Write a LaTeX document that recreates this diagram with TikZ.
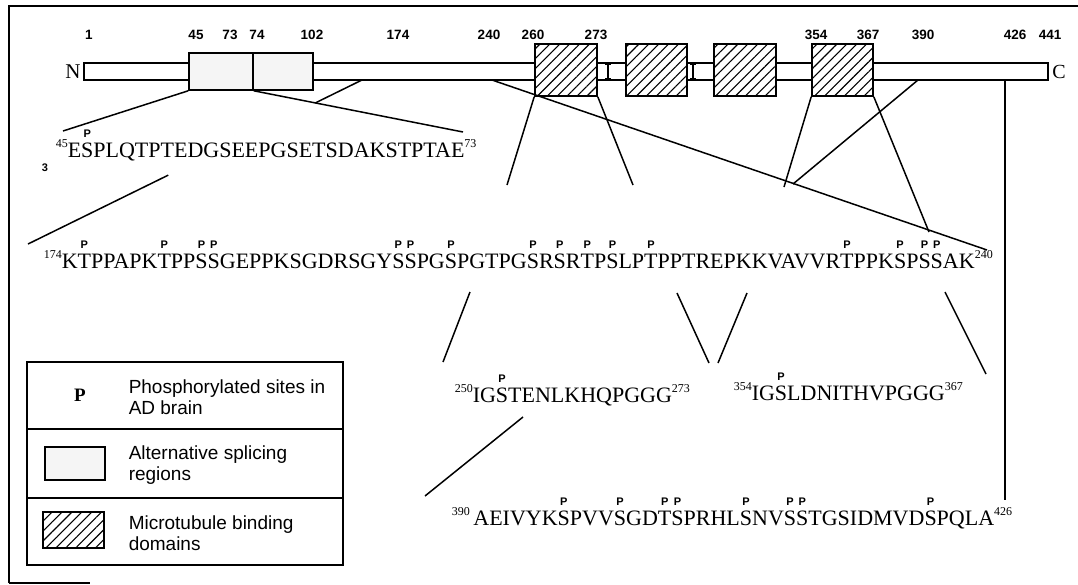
\documentclass[tikz,border=0pt]{standalone}
\usepackage{fontspec}
\setmainfont{Liberation Serif}
\setsansfont{Liberation Sans}
\usetikzlibrary{patterns.meta, calc}
% phosphorylation mark over one residue, and residue numbers
\newcommand{\pmark}{{\sffamily\bfseries\fontsize{11}{11}\selectfont P}}
\newcommand{\ph}[1]{\ooalign{\hidewidth\raisebox{20pt}{\pmark}\hidewidth\cr#1\cr}}
\newcommand{\res}[1]{\raisebox{10pt}{\fontsize{12}{12}\selectfont #1}}
\tikzset{
  every picture/.style={line width=1.5pt},
  bar/.style={draw, fill=white, line width=1.4pt, inner sep=0pt},
  splice/.style={draw, fill=black!4, line width=1.6pt, inner sep=0pt, minimum height=37pt},
  mtb/.style={draw, preaction={fill=white}, pattern={Lines[angle=45, distance=7pt, line width=1.1pt]}, line width=1.6pt, inner sep=0pt, minimum height=52pt},
  numlabel/.style={font=\sffamily\bfseries\fontsize{13.5}{13.5}\selectfont},
  seq/.style={font=\fontsize{22}{22}\selectfont, inner sep=0pt, anchor=base west},
  legtext/.style={font=\sffamily\fontsize{19}{21}\selectfont, align=left, anchor=west, inner sep=0pt},
}
\begin{document}
\begin{tikzpicture}[x=1pt, y=-1pt]
  \useasboundingbox (0,0) rectangle (1078,584);
  % frame
  \draw (9,583) -- (9,6) -- (1078,6);
  \draw (9,583) -- (90,583);
  % the protein
  \node[bar, minimum width=964pt, minimum height=17pt] (tau) at (566,71.5) {};
  \node[font=\fontsize{21}{21}\selectfont] (nterm) at (73,72) {N};
  \node[font=\fontsize{20}{20}\selectfont] (cterm) at (1059,72) {C};
  \foreach \x in {608,693}
    \draw[line width=1.2pt] (\x-3,64) -- (\x+3,64) (\x,64) -- (\x,79) (\x-3,79) -- (\x+3,79);
  \node[splice, minimum width=64pt] (ex2) at (221,71.5) {};
  \node[splice, minimum width=60pt] (ex3) at (283,71.5) {};
  \node[mtb, minimum width=62pt] (r1) at (566,70) {};
  \node[mtb, minimum width=61pt] (r2) at (656.5,70) {};
  \node[mtb, minimum width=62pt] (r3) at (745,70) {};
  \node[mtb, minimum width=61pt] (r4) at (842.5,70) {};
  \foreach \n/\x in {1/89, 45/196, 73/230, 74/257, 102/312, 174/398, 240/489, 260/533,
                     273/596, 354/816, 367/868, 390/923, 426/1015, 441/1050}
    \node[numlabel] (p\n) at (\x,35) {\n};

  % sequences
  \node[seq] (seqA) at (55,157) {\res{45}E\ph{S}PLQTPTEDGSEEPGSETSDAKSTPTAE\res{73}};
  \node[numlabel, font=\sffamily\bfseries\fontsize{11}{11}\selectfont] (three) at (45,168) {3};
  \node[seq] (seqB) at (43,268) {\res{174}K\ph{T}PPAPK\ph{T}PP\ph{S}\ph{S}GEPPKSGDRSGY\ph{S}\ph{S}PG\ph{S}PGTPG\ph{S}R\ph{S}R\ph{T}P\ph{S}LP\ph{T}PPTREPKKVAVVR\ph{T}PPK\ph{S}P\ph{S}\ph{S}AK\res{240}};
  \node[seq] (seqC) at (454,402) {\res{250}IG\ph{S}TENLKHQPGGG\res{273}};
  \node[seq] (seqD) at (733,400) {\res{354}IG\ph{S}LDNITHVPGGG\res{367}};
  \node[seq] (seqE) at (451,525) {\res{390}\,AEIVYK\ph{S}PVV\ph{S}GD\ph{T}\ph{S}PRHL\ph{S}NV\ph{S}\ph{S}TGSIDMVD\ph{S}PQLA\res{426}};

  % connector ends
  \coordinate (k174) at (362,80);
  \coordinate (k240) at (492,80);
  \coordinate (k390) at (918,80);
  \coordinate (k426) at (1005,80);
  \coordinate (a45) at (63,131);
  \coordinate (a73) at (463,132);
  \coordinate (a174) at (28,244);
  \coordinate (a240) at (987,250);
  \coordinate (a260) at (507,185);
  \coordinate (a273) at (633,185);
  \coordinate (a354) at (784,187);
  \coordinate (a390) at (793,184);
  \coordinate (a367) at (929,232);
  \coordinate (a426) at (1005,500);
  \foreach \a/\b in {ex2.south west/a45, ex2.south east/a73, k240/a240, r1.south west/a260,
                     r1.south east/a273, r4.south west/a354, k390/a390, r4.south east/a367, k426/a426}
    \draw (\a) -- (\b);
  \draw (k174) -- ($(k174)!0.14!(a174)$);
  \draw ($(k174)!0.58!(a174)$) -- (a174);
  % second level
  \coordinate (b1) at (470,292);   \coordinate (c1) at (443,362);
  \coordinate (b2) at (677,293);   \coordinate (c2) at (709,363);
  \coordinate (b3) at (747,293);   \coordinate (c3) at (718,363);
  \coordinate (b4) at (945,292);   \coordinate (c4) at (986,374);
  \coordinate (b5) at (523,417);   \coordinate (c5) at (425,496);
  \foreach \i in {1,...,5} \draw (b\i) -- (c\i);

  % legend
  \draw (27,362) rectangle (343,565);
  \draw (27,429) -- (343,429) (27,498) -- (343,498);
  \node[font=\bfseries\fontsize{19}{19}\selectfont] (legp) at (80,395) {P};
  \node[legtext] (legtp) at (128,397.5) {Phosphorylated sites in\\AD brain};
  \draw[fill=black!4] (45,447) rectangle (105,480);
  \node[legtext] (legts) at (128,465.5) {Alternative splicing\\regions};
  \draw[preaction={fill=white}, pattern={Lines[angle=45, distance=7pt, line width=1.1pt]}] (43,512) rectangle (104,548);
  \node[legtext] (legtm) at (128,533) {Microtubule binding\\domains};
\end{tikzpicture}
\end{document}
